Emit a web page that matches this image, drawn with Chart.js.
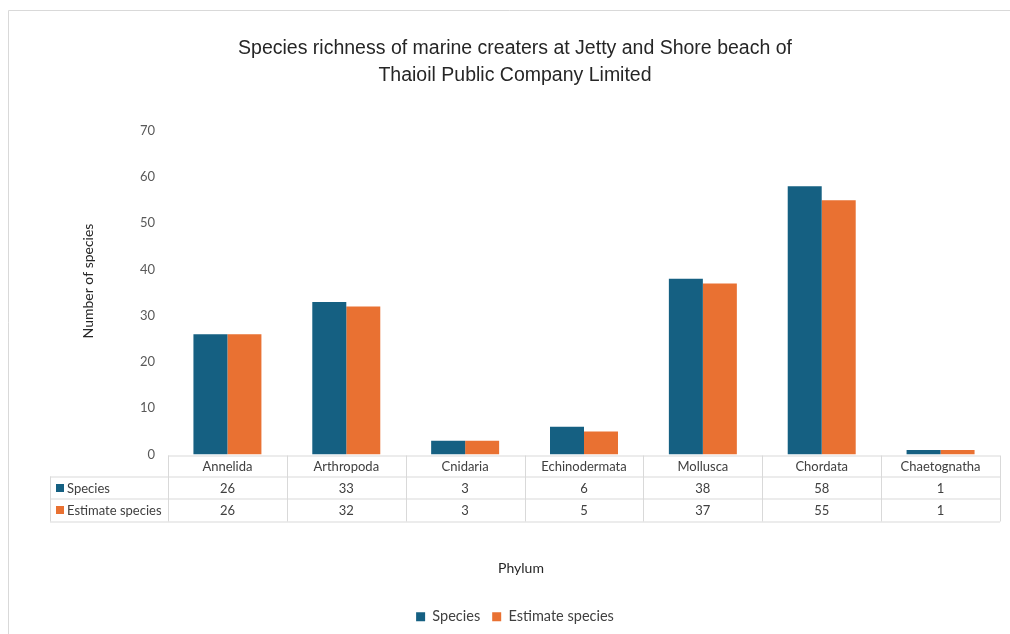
<!DOCTYPE html>
<html>
<head>
<meta charset="utf-8">
<script src="https://cdn.jsdelivr.net/npm/chart.js@4"></script>
<style>
  html, body { margin: 0; padding: 0; background: #fff; overflow: hidden; }
  #wrap { width: 1010px; height: 634px; }
</style>
</head>
<body>
<div id="wrap"><canvas id="speciesChart" width="1010" height="634"></canvas></div>
<script>
// Chart data
const phyla = ["Annelida", "Arthropoda", "Cnidaria", "Echinodermata", "Mollusca", "Chordata", "Chaetognatha"];
const speciesCounts = [26, 33, 3, 6, 38, 58, 1];
const estimateCounts = [26, 32, 3, 5, 37, 55, 1];
const yTicks = [0, 10, 20, 30, 40, 50, 60, 70];

const blue = "#156082";
const orange = "#E97132";
const gridGray = "#d9d9d9";
const textGray = "#404040";
const bodyFont = "Lato, 'Open Sans', sans-serif";

// Frame, axis titles and the data table under the bars
const tablePlugin = {
  id: "dataTable",
  afterDraw(chart) {
    const ctx = chart.ctx;
    const area = chart.chartArea;
    const x = chart.scales.x;
    const colW = (area.right - area.left) / phyla.length;
    const top = area.bottom + 1;
    const rowH = [21, 22, 23];
    const y1 = top + rowH[0];
    const y2 = y1 + rowH[1];
    const y3 = y2 + rowH[2];
    const labelLeft = 50;

    ctx.save();
    // outer frame
    ctx.strokeStyle = gridGray;
    ctx.lineWidth = 1;
    ctx.beginPath();
    ctx.moveTo(8.5, 640);
    ctx.lineTo(8.5, 10.5);
    ctx.lineTo(1010, 10.5);
    ctx.stroke();

    // table grid
    ctx.strokeStyle = gridGray;
    ctx.beginPath();
    ctx.moveTo(area.left, top + 0.5);
    ctx.lineTo(area.right, top + 0.5);
    [y1, y2, y3].forEach((yy) => {
      ctx.moveTo(labelLeft, yy + 0.5);
      ctx.lineTo(area.right, yy + 0.5);
    });
    ctx.moveTo(labelLeft + 0.5, y1);
    ctx.lineTo(labelLeft + 0.5, y3);
    for (let i = 0; i <= phyla.length; i++) {
      const bx = Math.round(area.left + i * colW) + 0.5;
      ctx.moveTo(bx, top);
      ctx.lineTo(bx, y3);
    }
    ctx.stroke();

    // header + values
    ctx.font = "13px " + bodyFont;
    ctx.fillStyle = textGray;
    ctx.textAlign = "center";
    ctx.textBaseline = "middle";
    phyla.forEach((name, i) => {
      const cx = x.getPixelForValue(i);
      ctx.fillText(name, cx, top + rowH[0] / 2 + 1);
      ctx.fillText(String(speciesCounts[i]), cx, y1 + rowH[1] / 2 + 1);
      ctx.fillText(String(estimateCounts[i]), cx, y2 + rowH[2] / 2 + 1);
    });

    // row keys
    ctx.textAlign = "left";
    const rows = [
      { label: "Species", color: blue, y: y1 + rowH[1] / 2 },
      { label: "Estimate species", color: orange, y: y2 + rowH[2] / 2 },
    ];
    rows.forEach((r) => {
      ctx.fillStyle = r.color;
      ctx.fillRect(labelLeft + 6, Math.round(r.y - 4), 8, 8);
      ctx.fillStyle = textGray;
      ctx.fillText(r.label, labelLeft + 17, r.y + 1);
    });

    // axis titles
    ctx.fillStyle = "#262626";
    ctx.font = "14px " + bodyFont;
    ctx.textAlign = "center";
    ctx.fillText("Phylum", 521, 568);
    ctx.save();
    ctx.translate(88, 281);
    ctx.rotate(-Math.PI / 2);
    ctx.fillText("Number of species", 0, 0);
    ctx.restore();
    ctx.restore();
  },
};

const chartCtx = document.getElementById("speciesChart");
new Chart(chartCtx, {
  type: "bar",
  data: {
    labels: phyla,
    datasets: [
      {
        label: "Species",
        data: speciesCounts,
        backgroundColor: blue,
        borderWidth: 0,
        categoryPercentage: 0.572,
        barPercentage: 1.0,
      },
      {
        label: "Estimate species",
        data: estimateCounts,
        backgroundColor: orange,
        borderWidth: 0,
        categoryPercentage: 0.572,
        barPercentage: 1.0,
      },
    ],
  },
  options: {
    responsive: false,
    animation: false,
    layout: {
      padding: { left: 30, right: 10, top: 0, bottom: 0 },
    },
    plugins: {
      title: {
        display: true,
        text: [
          "Species richness of marine creaters at Jetty and Shore beach of",
          "Thaioil Public Company Limited",
        ],
        color: "#262626",
        font: { family: "'Liberation Sans', sans-serif", size: 19.5, weight: "normal", lineHeight: 1.38 },
        padding: { top: 35, bottom: 42 },
      },
      legend: {
        position: "bottom",
        labels: {
          color: textGray,
          boxWidth: 9,
          boxHeight: 9,
          padding: 12,
          font: { family: bodyFont, size: 14.5 },
        },
      },
      tooltip: { enabled: false },
    },
    scales: {
      x: {
        grid: { display: false, drawTicks: false },
        border: { display: false },
        ticks: { display: false },
        afterFit: (scale) => {
          scale.height = 143;
        },
      },
      y: {
        min: 0,
        max: 70,
        grid: { display: false, drawTicks: false },
        border: { display: false },
        afterBuildTicks: (scale) => {
          scale.ticks = yTicks.map((v) => ({ value: v }));
        },
        ticks: {
          color: "#595959",
          padding: 13,
          font: { family: bodyFont, size: 13 },
        },
        afterFit: (scale) => {
          scale.width = 138;
        },
      },
    },
  },
  plugins: [tablePlugin],
});
</script>
</body>
</html>
